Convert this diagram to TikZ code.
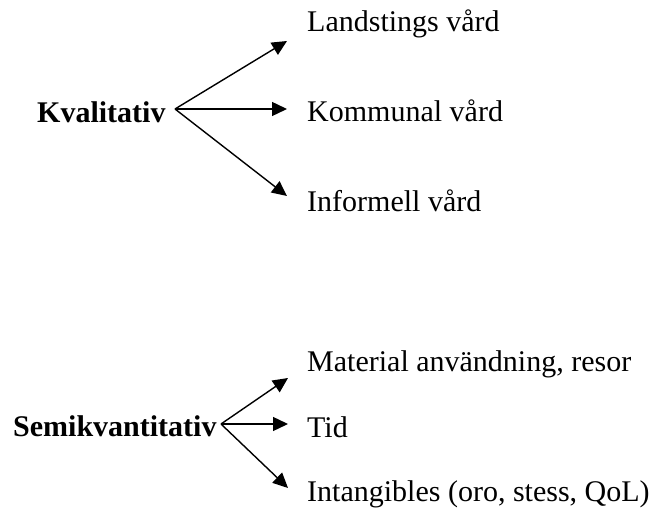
\documentclass[tikz,border=0pt]{standalone}
\usepackage{fontspec}
\setmainfont{Liberation Serif}
\usetikzlibrary{arrows.meta}

\begin{document}
\begin{tikzpicture}[
    x=1pt, y=-1pt,
    font=\fontsize{30}{36}\selectfont,
    >={Triangle[length=15pt,width=14pt]},
    group/.style={anchor=base west, inner sep=0pt, font=\fontsize{30}{36}\selectfont\bfseries},
    item/.style={anchor=base west, inner sep=0pt},
    edge/.style={->, line width=1.4pt}
]
\useasboundingbox (0,0) rectangle (651,510);

% --- Kvalitativ: three kinds of care ---
\node[group] (kval) at (37,123) {Kvalitativ};
\node[item]  (land) at (307,32)  {Landstings vård};
\node[item]  (komm) at (307,122) {Kommunal vård};
\node[item]  (info) at (307,212) {Informell vård};

\coordinate (kval-fork) at (175,109);
\coordinate (land-tip)  at (287,41);
\coordinate (komm-tip)  at (287,109);
\coordinate (info-tip)  at (287,196);

\draw[edge] (kval-fork) -- (land-tip);
\draw[edge] (kval-fork) -- (komm-tip);
\draw[edge] (kval-fork) -- (info-tip);

% --- Semikvantitativ ---
\node[group] (semi) at (13,437) {Semikvantitativ};
\node[item]  (mat)  at (307,372) {Material användning, resor};
\node[item]  (tid)  at (307,438) {Tid};
\node[item]  (intg) at (307,502) {Intangibles (oro, stess, QoL)};

\coordinate (semi-fork) at (221,424);
\coordinate (mat-tip)   at (288,378);
\coordinate (tid-tip)   at (288,424);
\coordinate (intg-tip)  at (288,488);

\draw[edge] (semi-fork) -- (mat-tip);
\draw[edge] (semi-fork) -- (tid-tip);
\draw[edge] (semi-fork) -- (intg-tip);

\end{tikzpicture}
\end{document}
